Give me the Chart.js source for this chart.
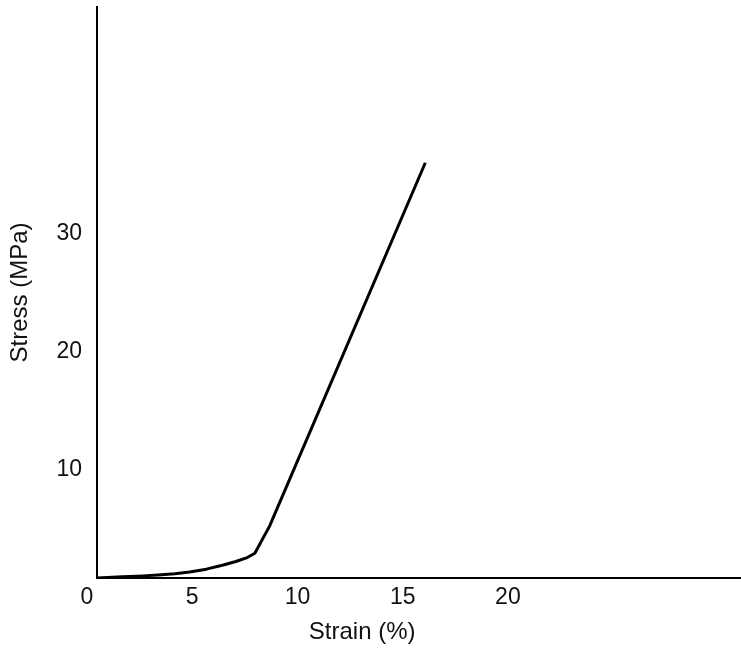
<!DOCTYPE html>
<html>
<head>
<meta charset="utf-8">
<script src="https://cdn.jsdelivr.net/npm/chart.js@4/dist/chart.umd.min.js"></script>
<style>
    body { margin: 0; background: #fff; }
    #wrap { width: 741px; height: 648px; }
</style>
</head>
<body>
<div id="wrap"><canvas id="stress-chart"></canvas></div>
<script>
// values
const strain = [0, 1.2, 2.2, 2.9, 3.7, 4.4, 5.2, 6.0, 6.6, 7.1, 7.5, 8.2, 15.6];
const stress = [0, 0.1, 0.18, 0.25, 0.36, 0.5, 0.75, 1.1, 1.4, 1.7, 2.1, 4.4, 35.2];
const xTickValues = [0, 5, 10, 15, 20];
const yTickValues = [10, 20, 30];

const fontFamily = '"Liberation Sans", Arial, Helvetica, sans-serif';

// x axis title sits left of the axis centre in the original
const xTitlePlugin = {
    id: 'xTitle',
    afterDraw(chart) {
        const ctx = chart.ctx;
        const x = chart.scales.x.getPixelForValue(12.6);
        ctx.save();
        ctx.font = '24px ' + fontFamily;
        ctx.fillStyle = '#111';
        ctx.textAlign = 'center';
        ctx.textBaseline = 'middle';
        ctx.fillText('Strain (%)', x, 632);
        ctx.restore();
    }
};

document.addEventListener('DOMContentLoaded', function() {
    const ctx = document.getElementById('stress-chart').getContext('2d');

    new Chart(ctx, {
        type: 'line',
        data: {
            datasets: [{
                data: strain.map((s, i) => ({ x: s, y: stress[i] })),
                borderColor: '#000',
                borderWidth: 3,
                borderJoinStyle: 'round',
                pointRadius: 0,
                fill: false,
                tension: 0
            }]
        },
        options: {
            responsive: true,
            maintainAspectRatio: false,
            animation: false,
            layout: { padding: { top: 7, right: 0, left: 0, bottom: 0 } },
            plugins: {
                legend: { display: false },
                tooltip: { enabled: false }
            },
            scales: {
                x: {
                    type: 'linear',
                    min: 0,
                    max: 30.6,
                    grid: { display: false, drawTicks: false },
                    border: { display: true, color: '#000', width: 2 },
                    afterBuildTicks: scale => {
                        scale.ticks = xTickValues.map(v => ({ value: v }));
                    },
                    afterFit: scale => {
                        scale.height = 70;
                        scale.paddingLeft = 0;
                        scale.paddingRight = 0;
                    },
                    ticks: {
                        color: '#111',
                        font: { family: fontFamily, size: 23 },
                        padding: 6,
                        labelOffset: -10,
                        maxRotation: 0,
                        autoSkip: false
                    }
                },
                y: {
                    type: 'linear',
                    min: 0,
                    max: 48.4,
                    grid: { display: false, drawTicks: false },
                    border: { display: true, color: '#000', width: 2 },
                    afterBuildTicks: scale => {
                        scale.ticks = yTickValues.map(v => ({ value: v }));
                    },
                    afterFit: scale => {
                        scale.width = 97;
                        scale.paddingTop = 0;
                        scale.paddingBottom = 0;
                    },
                    title: {
                        display: true,
                        text: 'Stress (MPa)',
                        color: '#111',
                        font: { family: fontFamily, size: 24 },
                        padding: { top: 6, bottom: 0 }
                    },
                    ticks: {
                        color: '#111',
                        font: { family: fontFamily, size: 23 },
                        padding: 15,
                        labelOffset: 10,
                        autoSkip: false
                    }
                }
            }
        },
        plugins: [xTitlePlugin]
    });
});
</script>
</body>
</html>
